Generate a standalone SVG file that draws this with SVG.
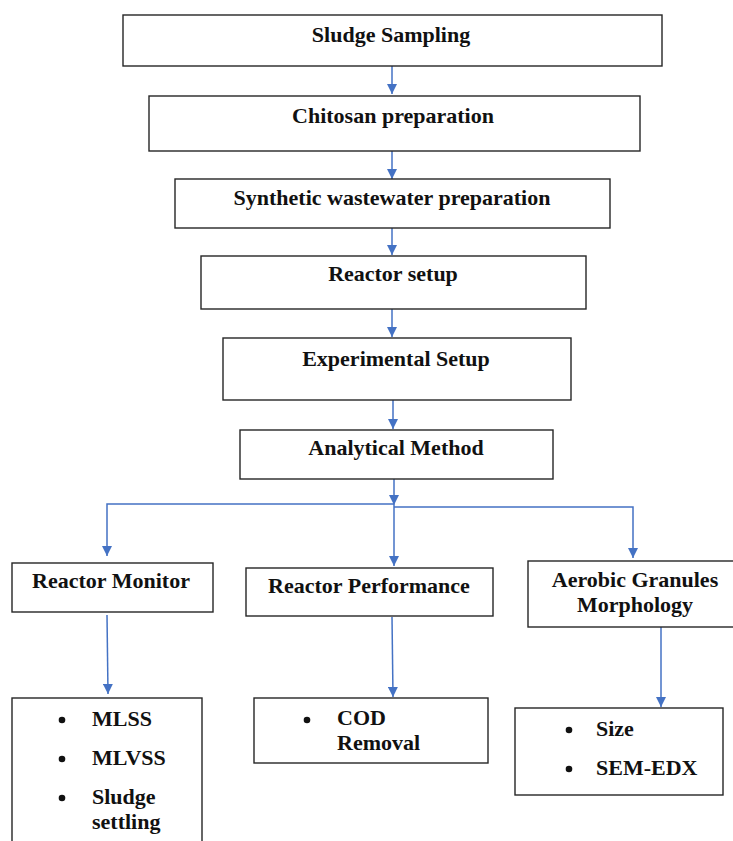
<svg xmlns="http://www.w3.org/2000/svg" width="733" height="841" viewBox="0 0 733 841">
<style>
.box{fill:#fff;stroke:#262626;stroke-width:1.4}
.t{font-family:"Liberation Serif","Times New Roman",serif;font-weight:bold;font-size:22px;fill:#111}
.c{text-anchor:middle}
.ln{fill:none;stroke:#4472C4;stroke-width:1.5}
.ah{fill:#4472C4}
.bul{fill:#111}
</style>
<defs>
<marker id="arr" viewBox="0 0 10 10" refX="10" refY="5" markerWidth="10" markerHeight="10" markerUnits="userSpaceOnUse" orient="auto">
<path d="M0,0 L10,5 L0,10 Z" class="ah"/>
</marker>
</defs>
<rect width="733" height="841" fill="#fff"/>
<g id="connectors">
<line class="ln" x1="392" y1="66" x2="392" y2="94" marker-end="url(#arr)"/>
<line class="ln" x1="392" y1="151" x2="392" y2="179" marker-end="url(#arr)"/>
<line class="ln" x1="392" y1="228" x2="392" y2="255" marker-end="url(#arr)"/>
<line class="ln" x1="392" y1="309" x2="392" y2="337" marker-end="url(#arr)"/>
<line class="ln" x1="393" y1="400" x2="393" y2="429" marker-end="url(#arr)"/>
<line class="ln" x1="394" y1="479" x2="394" y2="505" marker-end="url(#arr)"/>
<polyline class="ln" points="394,504 107,504 107,556" marker-end="url(#arr)"/>
<polyline class="ln" points="394,507 633,507 633,558" marker-end="url(#arr)"/>
<line class="ln" x1="394" y1="505" x2="394" y2="566" marker-end="url(#arr)"/>
<line class="ln" x1="107" y1="615" x2="108" y2="694" marker-end="url(#arr)"/>
<line class="ln" x1="392" y1="617" x2="393" y2="697" marker-end="url(#arr)"/>
<line class="ln" x1="661" y1="627" x2="661" y2="707" marker-end="url(#arr)"/>
</g>
<g id="sludge-sampling">
<rect class="box" x="123" y="15" width="539" height="51"/>
<text class="t c" x="391" y="42">Sludge Sampling</text>
</g>
<g id="chitosan-preparation">
<rect class="box" x="149" y="96" width="491" height="55"/>
<text class="t c" x="393" y="123">Chitosan preparation</text>
</g>
<g id="synthetic-wastewater">
<rect class="box" x="175" y="179" width="435" height="49"/>
<text class="t c" x="392" y="205">Synthetic wastewater preparation</text>
</g>
<g id="reactor-setup">
<rect class="box" x="201" y="256" width="385" height="53"/>
<text class="t c" x="393" y="281">Reactor setup</text>
</g>
<g id="experimental-setup">
<rect class="box" x="223" y="338" width="348" height="62"/>
<text class="t c" x="396" y="366">Experimental Setup</text>
</g>
<g id="analytical-method">
<rect class="box" x="240" y="430" width="313" height="49"/>
<text class="t c" x="396" y="455">Analytical Method</text>
</g>
<g id="reactor-monitor">
<rect class="box" x="12" y="563" width="201" height="49"/>
<text class="t c" x="111" y="588">Reactor Monitor</text>
</g>
<g id="reactor-performance">
<rect class="box" x="246" y="568" width="247" height="48"/>
<text class="t c" x="369" y="593">Reactor Performance</text>
</g>
<g id="aerobic-granules">
<rect class="box" x="528" y="561" width="212" height="66"/>
<text class="t c" x="635" y="587">Aerobic Granules</text>
<text class="t c" x="635" y="612">Morphology</text>
</g>
<g id="monitor-items">
<rect class="box" x="12" y="698" width="190" height="160"/>
<circle class="bul" cx="62" cy="720" r="3.3"/>
<text class="t" x="92" y="726">MLSS</text>
<circle class="bul" cx="62" cy="759" r="3.3"/>
<text class="t" x="92" y="765">MLVSS</text>
<circle class="bul" cx="62" cy="798" r="3.3"/>
<text class="t" x="92" y="804">Sludge</text>
<text class="t" x="92" y="829">settling</text>
</g>
<g id="performance-items">
<rect class="box" x="254" y="698" width="234" height="65"/>
<circle class="bul" cx="307" cy="720" r="3.3"/>
<text class="t" x="337" y="725">COD</text>
<text class="t" x="337" y="750">Removal</text>
</g>
<g id="morphology-items">
<rect class="box" x="515" y="708" width="208" height="87"/>
<circle class="bul" cx="569" cy="730" r="3.3"/>
<text class="t" x="596" y="736">Size</text>
<circle class="bul" cx="569" cy="769" r="3.3"/>
<text class="t" x="596" y="775">SEM-EDX</text>
</g>
</svg>
